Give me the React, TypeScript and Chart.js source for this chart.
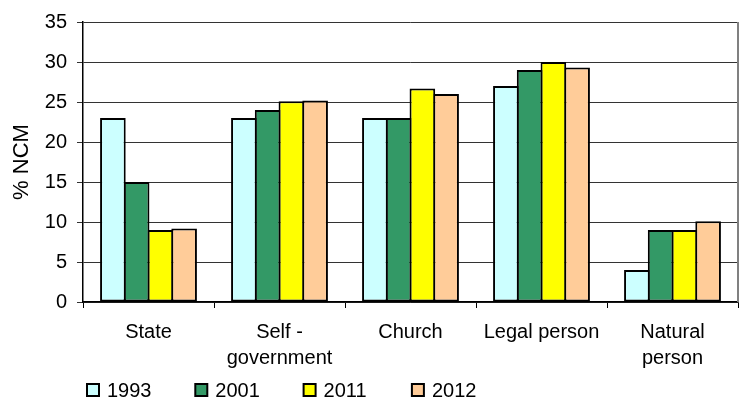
import React, { useEffect, useRef } from "react";
import { Chart, registerables } from "chart.js";

Chart.register(...registerables);

const categories: (string | string[])[] = [
  "State",
  ["Self -", "government"],
  "Church",
  "Legal person",
  ["Natural", "person"],
];
const seriesLabels = ["1993", "2001", "2011", "2012"];
const v1993 = [23, 23, 23, 27, 4];
const v2001 = [15, 24, 23, 29, 9];
const v2011 = [9, 25.1, 26.7, 30, 9];
const v2012 = [9.2, 25.2, 26.0, 29.3, 10.1];
const seriesColors = ["#CCFFFF", "#339966", "#FFFF00", "#FFCC99"];
const yTitle = "% NCM";

const FONT = "'Liberation Sans', Arial, sans-serif";

const legendPlugin = {
  id: "bottomLegend",
  afterDraw(chart: any) {
    const ctx = chart.ctx;
    const area = chart.chartArea;
    ctx.save();
    ctx.font = `20px ${FONT}`;
    ctx.textBaseline = "alphabetic";
    ctx.textAlign = "left";
    chart.data.datasets.forEach((ds: any, i: number) => {
      const x0 = area.left + 4 + i * 108.3;
      const y0 = 384;
      ctx.fillStyle = ds.backgroundColor;
      ctx.fillRect(x0, y0, 12, 12);
      ctx.strokeStyle = "#000";
      ctx.lineWidth = 2;
      ctx.strokeRect(x0, y0, 12, 12);
      ctx.fillStyle = "#000";
      ctx.fillText(ds.label, x0 + 20, 396.5);
    });
    ctx.restore();
  },
};

const borderPlugin = {
  id: "rightBorder",
  afterDatasetsDraw(chart: any) {
    const ctx = chart.ctx;
    const a = chart.chartArea;
    ctx.save();
    ctx.strokeStyle = "#808080";
    ctx.lineWidth = 2;
    ctx.beginPath();
    ctx.moveTo(a.right, a.top);
    ctx.lineTo(a.right, a.bottom);
    ctx.stroke();
    ctx.restore();
  },
};

export default function App() {
  const ref = useRef<HTMLCanvasElement | null>(null);
  useEffect(() => {
    document.body.style.margin = "0";
    const values = [v1993, v2001, v2011, v2012];
    const chart = new Chart(ref.current!, {
      type: "bar",
      data: {
        labels: categories,
        datasets: seriesLabels.map((label, i) => ({
          label,
          data: values[i],
          backgroundColor: seriesColors[i],
          borderColor: "#000",
          borderWidth: 2,
          borderSkipped: false,
          categoryPercentage: 0.725,
          barPercentage: 1.08,
        })),
      },
      options: {
        responsive: false,
        animation: false,
        devicePixelRatio: 1,
        layout: { padding: { top: 19, right: 5, bottom: 0, left: 0 } },
        plugins: {
          legend: { display: false },
          tooltip: { enabled: false },
        },
        scales: {
          x: {
            afterFit: (s: any) => {
              s.height = 99;
            },
            grid: {
              offset: true,
              drawOnChartArea: false,
              drawTicks: true,
              tickLength: 6,
              color: "#000",
            },
            border: { color: "#000", width: 1.5 },
            ticks: {
              color: "#000",
              font: { family: FONT, size: 20, lineHeight: 1.3 },
              padding: 11,
              maxRotation: 0,
              autoSkip: false,
            },
          },
          y: {
            min: 0,
            max: 35,
            afterFit: (s: any) => {
              s.width = 83;
            },
            grid: {
              color: "#333",
              drawTicks: true,
              tickLength: 6,
            },
            border: { color: "#000", width: 1.5 },
            ticks: {
              stepSize: 5,
              color: "#000",
              font: { family: FONT, size: 20 },
              padding: 10,
            },
            title: {
              display: true,
              text: yTitle,
              color: "#000",
              font: { family: FONT, size: 22 },
              padding: { top: 9, bottom: 0 },
            },
          },
        },
      },
      plugins: [borderPlugin, legendPlugin],
    });
    return () => chart.destroy();
  }, []);
  return (
    <div style={{ width: 743, height: 401, position: "relative" }}>
      <canvas ref={ref} width={743} height={401} />
    </div>
  );
}
